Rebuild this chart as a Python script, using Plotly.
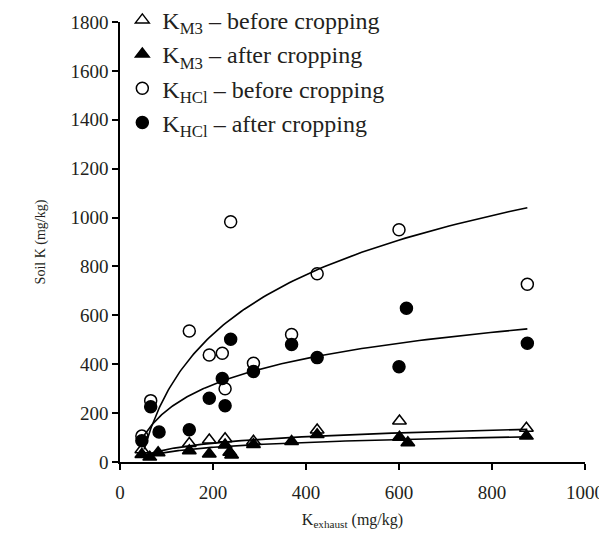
import numpy as np
import plotly.graph_objects as go

# ---- data ----
x_m3_before = [47, 149, 192, 226, 287, 424, 601, 874]
y_m3_before = [50, 76, 90, 95, 85, 131, 168, 138]

x_m3_after = [47, 64, 82, 149, 192, 226, 236, 240, 287, 369, 424, 601, 619, 874]
y_m3_after = [31, 20, 38, 46, 33, 70, 40, 29, 72, 84, 112, 101, 79, 106]

x_hcl_before = [47, 66, 149, 192, 220, 226, 238, 287, 369, 424, 600, 876]
y_hcl_before = [106, 251, 536, 438, 445, 300, 983, 404, 522, 770, 950, 727]

x_hcl_after = [47, 66, 84, 149, 192, 220, 226, 238, 287, 369, 424, 600, 616, 876]
y_hcl_after = [87, 226, 123, 132, 261, 342, 230, 502, 370, 481, 427, 390, 629, 486]

# logarithmic trend lines y = a*ln(x) + b (coefficients)
trend_a = [38, 29, 350, 154]
trend_b = [-124, -93.5, -1331, -499]
trend_x_range = [52, 876]

legend_names = [
    "K<sub>M3</sub> – before cropping",
    "K<sub>M3</sub> – after cropping",
    "K<sub>HCl</sub> – before cropping",
    "K<sub>HCl</sub> – after cropping",
]

FONT = "Liberation Serif, serif"
INK = "#231f20"

fig = go.Figure()

series = [
    (x_m3_before, y_m3_before, "triangle-up-open", 12),
    (x_m3_after, y_m3_after, "triangle-up", 12),
    (x_hcl_before, y_hcl_before, "circle-open", 12),
    (x_hcl_after, y_hcl_after, "circle", 12),
]

xt = np.geomspace(trend_x_range[0], trend_x_range[1], 120)
for a, b in zip(trend_a, trend_b):
    fig.add_trace(go.Scatter(x=xt, y=a * np.log(xt) + b, mode="lines",
                             line=dict(color="black", width=1.6),
                             showlegend=False, hoverinfo="skip"))

for (xs, ys, sym, sz), name in zip(series, legend_names):
    fig.add_trace(go.Scatter(
        x=xs, y=ys, mode="markers", name=name,
        marker=dict(symbol=sym, size=sz, color="black",
                    line=dict(color="black", width=1.5)),
    ))

# the page body adds an 8px offset, so the figure is sized to fit the window
fig.update_layout(
    width=599, height=539,
    margin=dict(l=112, r=22, t=14, b=85, autoexpand=False),
    paper_bgcolor="white", plot_bgcolor="white",
    font=dict(family=FONT, color=INK),
    legend=dict(x=0.005, y=1.055, xanchor="left", yanchor="top",
                font=dict(size=24, family=FONT, color=INK),
                bgcolor="rgba(0,0,0,0)", itemwidth=30,
                tracegroupgap=0),
    xaxis=dict(range=[0, 1000], tickvals=[0, 200, 400, 600, 800, 1000],
               showgrid=False, zeroline=False, showline=True,
               linecolor="black", linewidth=1.5, ticks="outside",
               ticklen=6, tickcolor="black", tickwidth=1.5,
               ticklabelstandoff=6,
               tickfont=dict(size=19, family=FONT, color=INK),
               title=dict(text="K<sub>exhaust</sub> (mg/kg)",
                          font=dict(size=16, family=FONT, color=INK), standoff=12)),
    yaxis=dict(range=[0, 1800], tickvals=list(range(0, 1801, 200)),
               showgrid=False, zeroline=False, showline=True,
               linecolor="black", linewidth=1.5, ticks="outside",
               ticklen=6, tickcolor="black", tickwidth=1.5,
               ticksuffix="\u00a0\u00a0",
               tickfont=dict(size=19, family=FONT, color=INK),
               title=dict(text="Soil K (mg/kg)",
                          font=dict(size=14, family=FONT, color=INK), standoff=22)),
)

fig.write_html("out.html")
